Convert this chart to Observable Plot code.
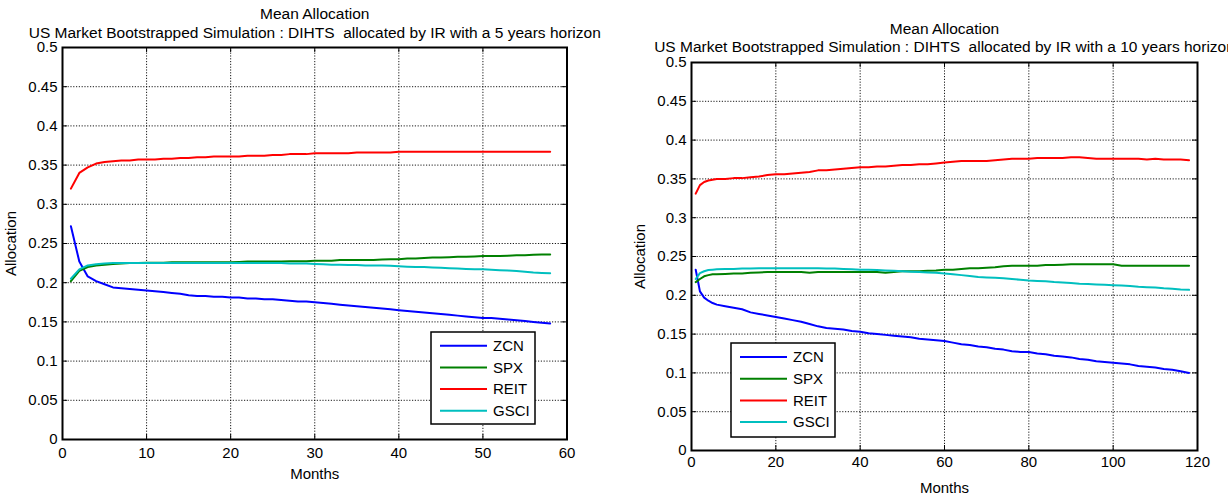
<!DOCTYPE html>
<html><head><meta charset="utf-8">
<script src="https://cdn.jsdelivr.net/npm/d3@7"></script>
<script src="https://cdn.jsdelivr.net/npm/@observablehq/plot@0.6"></script>
<style>
html,body{margin:0;padding:0;background:#fff;overflow:hidden;}
#wrap{position:relative;width:1228px;height:493px;font-family:"Liberation Sans",Arial,sans-serif;}
#wrap svg{position:absolute;top:0;overflow:visible;}
</style></head><body><div id="wrap"></div>
<script>
const seriesNames = ["ZCN","SPX","REIT","GSCI"];
const seriesColors = ["#0000ff","#008000","#ff0000","#00bfbf"];
const yTicks = [0,0.05,0.1,0.15,0.2,0.25,0.3,0.35,0.4,0.45,0.5];
const xTicks5 = [0,10,20,30,40,50,60];
const xTicks10 = [0,20,40,60,80,100,120];
const title = "Mean Allocation";
const subtitle5 = "US Market Bootstrapped Simulation : DIHTS  allocated by IR with a 5 years horizon";
const subtitle10 = "US Market Bootstrapped Simulation : DIHTS  allocated by IR with a 10 years horizon";
const xLabel = "Months";
const yLabel = "Allocation";

// 5-year horizon panel
const months5 = [1,2,3,4,5,6,7,8,9,10,11,12,13,14,15,16,17,18,19,20,21,22,23,24,25,26,27,28,29,30,31,32,33,34,35,36,37,38,39,40,41,42,43,44,45,46,47,48,49,50,51,52,53,54,55,56,57,58];
const zcn5 = [0.272,0.227,0.208,0.202,0.198,0.194,0.193,0.192,0.191,0.190,
0.189,0.188,0.187,0.186,0.184,0.183,0.183,0.182,0.182,0.181,
0.181,0.180,0.180,0.179,0.179,0.178,0.177,0.176,0.176,0.175,
0.174,0.173,0.172,0.171,0.170,0.169,0.168,0.167,0.166,0.165,
0.164,0.163,0.162,0.161,0.160,0.159,0.158,0.157,0.156,0.155,
0.155,0.154,0.153,0.152,0.151,0.150,0.149,0.148];
const spx5 = [0.202,0.215,0.220,0.222,0.223,0.224,0.2245,0.225,0.225,0.2255,
0.2255,0.2255,0.226,0.226,0.226,0.226,0.226,0.226,0.226,0.226,
0.2265,0.227,0.227,0.227,0.227,0.227,0.2275,0.2275,0.2275,0.228,
0.228,0.228,0.229,0.229,0.229,0.229,0.229,0.2295,0.230,0.230,
0.231,0.231,0.2315,0.232,0.232,0.2325,0.233,0.233,0.2335,0.234,
0.234,0.234,0.2345,0.235,0.235,0.2355,0.236,0.236];
const reit5 = [0.320,0.340,0.347,0.352,0.354,0.355,0.356,0.356,0.357,0.357,
0.357,0.358,0.358,0.359,0.359,0.360,0.360,0.361,0.361,0.361,
0.361,0.362,0.362,0.362,0.363,0.363,0.364,0.364,0.364,0.365,
0.365,0.365,0.365,0.365,0.366,0.366,0.366,0.366,0.366,0.367,
0.367,0.367,0.367,0.367,0.367,0.367,0.367,0.367,0.367,0.367,
0.367,0.367,0.367,0.367,0.367,0.367,0.367,0.367];
const gsci5 = [0.205,0.217,0.222,0.2235,0.2245,0.225,0.225,0.225,0.225,0.225,
0.225,0.225,0.225,0.225,0.225,0.225,0.225,0.225,0.225,0.225,
0.225,0.225,0.225,0.225,0.225,0.225,0.2245,0.2245,0.2245,0.224,
0.2235,0.223,0.223,0.2225,0.2225,0.222,0.222,0.222,0.2215,0.221,
0.2205,0.220,0.220,0.2195,0.219,0.2185,0.218,0.2175,0.217,0.217,
0.2165,0.216,0.2155,0.215,0.214,0.213,0.2125,0.212];

// 10-year horizon panel
const months10 = [1,2,3,4,5,6,8,10,12,14,16,18,20,22,24,26,28,30,32,34,36,38,40,42,44,46,48,50,52,54,56,58,60,62,64,66,68,70,72,74,76,78,80,82,84,86,88,90,92,94,96,98,100,102,104,106,108,110,112,114,116,118];
const zcn10 = [0.233,0.205,0.197,0.193,0.190,0.188,
0.186,0.184,0.182,0.178,0.176,0.174,0.172,0.170,0.168,0.166,0.163,0.160,0.158,0.157,
0.156,0.154,0.153,0.151,0.150,0.149,0.148,0.147,0.146,0.144,0.143,0.142,0.141,0.139,
0.137,0.136,0.134,0.133,0.131,0.130,0.128,0.127,0.127,0.125,0.124,0.122,0.121,0.120,
0.118,0.117,0.115,0.114,0.113,0.112,0.111,0.109,0.108,0.107,0.105,0.104,0.102,0.100];
const spx10 = [0.217,0.221,0.2245,0.226,0.227,0.227,
0.2275,0.228,0.228,0.229,0.2295,0.230,0.230,0.230,0.230,0.230,0.229,0.230,0.230,0.230,
0.230,0.230,0.230,0.230,0.230,0.229,0.230,0.231,0.231,0.231,0.2315,0.232,0.233,0.233,
0.234,0.235,0.235,0.2355,0.236,0.2375,0.238,0.238,0.238,0.238,0.239,0.239,0.2395,0.240,
0.240,0.240,0.240,0.240,0.240,0.238,0.238,0.238,0.238,0.238,0.238,0.238,0.238,0.238];
const reit10 = [0.331,0.342,0.346,0.348,0.349,0.350,
0.350,0.351,0.351,0.352,0.353,0.355,0.356,0.356,0.357,0.358,0.359,0.361,0.361,0.362,
0.363,0.364,0.365,0.365,0.366,0.366,0.367,0.368,0.368,0.369,0.369,0.370,0.371,0.372,
0.373,0.373,0.373,0.373,0.374,0.375,0.376,0.376,0.376,0.377,0.377,0.377,0.377,0.378,
0.378,0.377,0.376,0.376,0.376,0.376,0.376,0.376,0.375,0.376,0.375,0.375,0.375,0.374];
const gsci10 = [0.221,0.2285,0.231,0.2325,0.233,0.2335,
0.234,0.234,0.2345,0.2345,0.235,0.235,0.235,0.235,0.235,0.235,0.235,0.235,0.2345,0.2345,
0.234,0.2335,0.233,0.233,0.2325,0.232,0.2315,0.231,0.2305,0.230,0.2295,0.229,0.228,0.227,
0.226,0.225,0.2235,0.223,0.2225,0.222,0.221,0.220,0.219,0.2185,0.218,0.217,0.2165,0.216,
0.215,0.2145,0.214,0.2135,0.213,0.2125,0.212,0.211,0.2105,0.210,0.209,0.2085,0.2075,0.207];

function tidy(months, lists) {
  const rows = [];
  seriesNames.forEach((name, k) => {
    months.forEach((m, i) => rows.push({series: name, month: m, value: lists[k][i]}));
  });
  return rows;
}

const FONT = '"Liberation Sans", Arial, Helvetica, sans-serif';
const fmt = d3.format("~g");

function panel(o) {
  const fh = o.height - o.mT - o.mB;
  const fw = o.width - o.mL - o.mR;
  const gridStyle = {stroke: "#000", strokeOpacity: 0.9, strokeDasharray: "1.2,1.6", strokeWidth: 1};
  return Plot.plot({
    width: o.width, height: o.height,
    marginLeft: o.mL, marginRight: o.mR, marginTop: o.mT, marginBottom: o.mB,
    style: {fontFamily: FONT, fontSize: "15px", color: "#000", background: "transparent", overflow: "visible"},
    x: {domain: [0, o.xTicks[o.xTicks.length - 1]]},
    y: {domain: [0, 0.5]},
    color: {domain: seriesNames, range: seriesColors},
    marks: [
      Plot.gridX(o.xTicks, gridStyle),
      Plot.gridY(yTicks, gridStyle),
      Plot.tickX(o.xTicks, {x: d => d, stroke: "#000", insetTop: fh - 5}),
      Plot.tickX(o.xTicks, {x: d => d, stroke: "#000", insetBottom: fh - 5}),
      Plot.tickY(yTicks, {y: d => d, stroke: "#000", insetRight: fw - 5}),
      Plot.tickY(yTicks, {y: d => d, stroke: "#000", insetLeft: fw - 5}),
      Plot.line(tidy(o.months, o.lists), {x: "month", y: "value", z: "series", stroke: "series", strokeWidth: 2}),
      Plot.frame({stroke: "#000", strokeWidth: 2}),
      Plot.axisX(o.xTicks, {tickSize: 0, tickPadding: o.xPad, label: xLabel, labelAnchor: "center", labelArrow: "none", labelOffset: o.xLabelOffset, fontSize: 15}),
      Plot.axisY(yTicks, {tickSize: 0, tickPadding: 5, tickFormat: fmt, label: yLabel, labelAnchor: "center", labelArrow: "none", labelOffset: o.yLabelOffset, fontSize: 15}),
      Plot.text([title], {text: d => d, frameAnchor: "top", dy: o.titleDy, fontSize: 15.5}),
      Plot.text([o.subtitle], {text: d => d, frameAnchor: "top", dy: o.subDy, fontSize: 15.5})
    ]
  });
}

const wrap = document.getElementById("wrap");
const p1 = panel({width: 614, height: 493, mL: 62, mR: 47.5, mT: 47, mB: 54,
  xTicks: xTicks5, months: months5, lists: [zcn5, spx5, reit5, gsci5],
  subtitle: subtitle5, xPad: 8, xLabelOffset: 39, yLabelOffset: 57, titleDy: -40, subDy: -21});
p1.style.left = "0px";
wrap.appendChild(p1);
const p2 = panel({width: 614, height: 493, mL: 77, mR: 31, mT: 62, mB: 43,
  xTicks: xTicks10, months: months10, lists: [zcn10, spx10, reit10, gsci10],
  subtitle: subtitle10, xPad: 5.5, xLabelOffset: 42, yLabelOffset: 57, titleDy: -40, subDy: -22});
p2.style.left = "614px";
wrap.appendChild(p2);

// Legends (MATLAB-style boxed legends)
const ov = d3.select(wrap).append("svg").attr("width", 1228).attr("height", 493).style("left", "0px")
  .style("pointer-events", "none");
function legend(x0, y0, w, h, firstY, step) {
  const g = ov.append("g");
  g.append("rect").attr("x", x0).attr("y", y0).attr("width", w).attr("height", h)
    .attr("fill", "#fff").attr("stroke", "#000").attr("stroke-width", 1.5);
  seriesNames.forEach((name, i) => {
    const y = firstY + i * step;
    g.append("line").attr("x1", x0 + 9).attr("x2", x0 + 56).attr("y1", y).attr("y2", y)
      .attr("stroke", seriesColors[i]).attr("stroke-width", 2);
    g.append("text").attr("x", x0 + 62).attr("y", y).attr("dy", "0.35em")
      .attr("font-family", FONT).attr("font-size", 15).attr("fill", "#000").text(name);
  });
}
legend(431, 332, 104, 92, 345.7, 21.7);
legend(731, 343, 104, 94, 357, 21.7);
</script></body></html>
